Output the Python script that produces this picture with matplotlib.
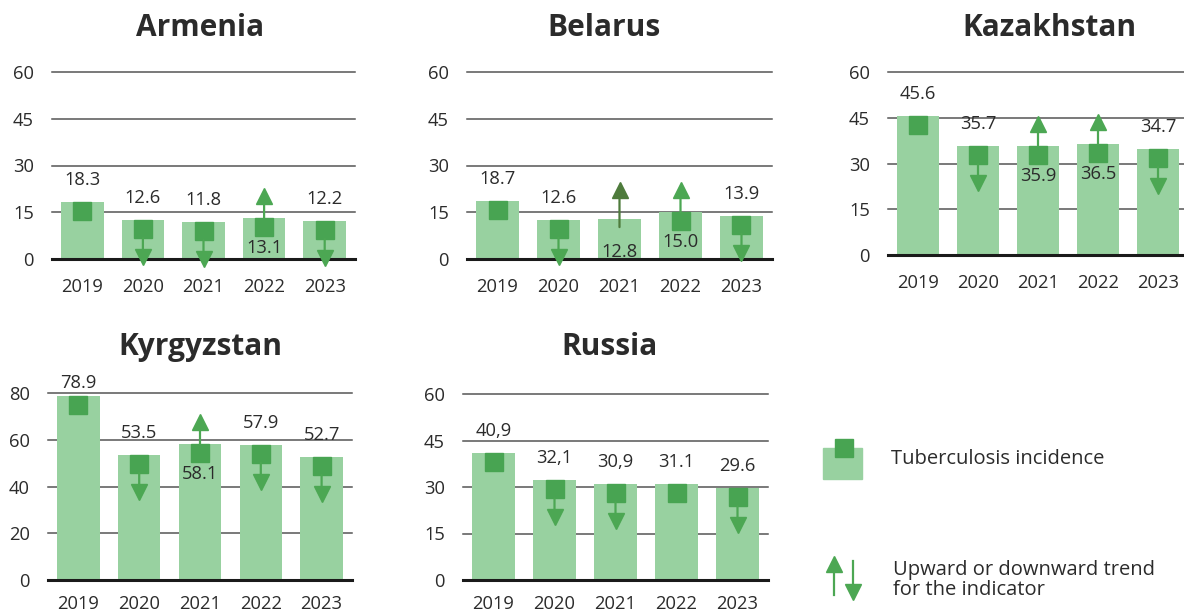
import matplotlib
matplotlib.use("Agg")
import matplotlib.pyplot as plt
import matplotlib.transforms as mtransforms
from matplotlib.patches import Rectangle

plt.rcParams['font.family'] = ['Open Sans', 'DejaVu Sans']

# ---------------- data ----------------
years = ["2019", "2020", "2021", "2022", "2023"]

armenia_vals = [18.3, 12.6, 11.8, 13.1, 12.2]
armenia_labels = ["18.3", "12.6", "11.8", "13.1", "12.2"]
armenia_trend = ["none", "down", "down", "up", "down"]

belarus_vals = [18.7, 12.6, 12.8, 15.0, 13.9]
belarus_labels = ["18.7", "12.6", "12.8", "15.0", "13.9"]
belarus_trend = ["none", "down", "up_nosq", "up", "down"]

kazakhstan_vals = [45.6, 35.7, 35.9, 36.5, 34.7]
kazakhstan_labels = ["45.6", "35.7", "35.9", "36.5", "34.7"]
kazakhstan_trend = ["none", "down", "up", "up", "down"]

kyrgyzstan_vals = [78.9, 53.5, 58.1, 57.9, 52.7]
kyrgyzstan_labels = ["78.9", "53.5", "58.1", "57.9", "52.7"]
kyrgyzstan_trend = ["none", "down", "up", "down", "down"]

russia_vals = [40.9, 32.1, 30.9, 31.1, 29.6]
russia_labels = ["40,9", "32,1", "30,9", "31.1", "29.6"]
russia_trend = ["none", "down", "down", "none", "down"]

# ---------------- style ----------------
BAR = "#98D1A0"
SQ = "#48A452"
ARR = "#4CA753"
ARR_DARK = "#4E7B3C"
TXT = "#2b2b2b"
GRID = "#555555"
FS = 13.2

W, H = 1184, 613
fig = plt.figure(figsize=(W / 100, H / 100), dpi=100)


def px_axes(x0, x1, ytop, ybot):
    return fig.add_axes([x0 / W, 1 - ybot / H, (x1 - x0) / W, (ybot - ytop) / H])


def off(ax, dy):
    return mtransforms.offset_copy(ax.transData, fig=fig, x=0, y=dy, units='dots')


def panel(ax, vals, labels, trends, ymax, step, title, title_xy, xpad=14):
    x = list(range(len(vals)))
    ax.bar(x, vals, width=0.7, color=BAR, zorder=2)
    ax.set_xlim(-0.5, 4.5)
    ax.set_ylim(0, ymax)
    ticks = list(range(0, ymax + 1, step))
    ax.set_yticks(ticks)
    ax.set_xticks(x)
    ax.set_xticklabels(years)
    for t in ticks:
        if t == 0:
            ax.axhline(0, color="#1a1a1a", lw=2.2, zorder=3, clip_on=False)
        else:
            ax.axhline(t, color=GRID, lw=1.1, zorder=1, clip_on=False)
    for s in ax.spines.values():
        s.set_visible(False)
    ax.tick_params(axis='both', length=0, labelsize=FS, colors=TXT)
    ax.tick_params(axis='y', pad=13)
    ax.tick_params(axis='x', pad=xpad)
    ax.patch.set_alpha(0)

    for i, (v, lab, tr) in enumerate(zip(vals, labels, trends)):
        if tr != "up_nosq":
            ax.plot([i], [v], marker='s', ms=13, color=SQ, lw=0, zorder=4,
                    transform=off(ax, -9), clip_on=False)
        if tr == "down":
            ax.annotate('', xy=(i, v), xycoords=off(ax, -38), xytext=(i, v),
                        textcoords=off(ax, -18),
                        arrowprops=dict(arrowstyle='-', lw=1.6, color=ARR,
                                        shrinkA=0, shrinkB=0), zorder=5)
            ax.plot([i], [v], marker='v', ms=11, color=ARR, lw=0, zorder=5,
                    transform=off(ax, -37), clip_on=False)
        elif tr == "up":
            ax.annotate('', xy=(i, v), xycoords=off(ax, 18), xytext=(i, v),
                        textcoords=off(ax, 0),
                        arrowprops=dict(arrowstyle='-', lw=1.6, color=ARR,
                                        shrinkA=0, shrinkB=0), zorder=5)
            ax.plot([i], [v], marker='^', ms=11, color=ARR, lw=0, zorder=5,
                    transform=off(ax, 22), clip_on=False)
        elif tr == "up_nosq":
            ax.annotate('', xy=(i, v), xycoords=off(ax, 25), xytext=(i, v),
                        textcoords=off(ax, -8),
                        arrowprops=dict(arrowstyle='-', lw=1.6, color=ARR_DARK,
                                        shrinkA=0, shrinkB=0), zorder=5)
            ax.plot([i], [v], marker='^', ms=11, color=ARR_DARK, lw=0, zorder=5,
                    transform=off(ax, 29), clip_on=False)

        if tr in ("up", "up_nosq"):
            dy = -30 if tr == "up" else -33
        else:
            dy = 22 if v < 0.9 * ymax else 13
        ax.text(i, v, lab, transform=off(ax, dy), ha='center', va='center',
                fontsize=FS, color=TXT, zorder=6)

    fig.text(title_xy[0] / W, 1 - title_xy[1] / H, title, ha='center',
             va='center', fontsize=21.5, fontweight='bold', color=TXT)


ax1 = px_axes(52, 355, 72, 259)
panel(ax1, armenia_vals, armenia_labels, armenia_trend, 60, 15, "Armenia", (200, 28))

ax2 = px_axes(467, 772, 72, 259)
panel(ax2, belarus_vals, belarus_labels, belarus_trend, 60, 15, "Belarus", (604, 28))

ax3 = px_axes(888, 1188, 72, 255)
panel(ax3, kazakhstan_vals, kazakhstan_labels, kazakhstan_trend, 60, 15, "Kazakhstan", (1049, 28))

ax4 = px_axes(48, 352, 393, 580)
panel(ax4, kyrgyzstan_vals, kyrgyzstan_labels, kyrgyzstan_trend, 80, 20, "Kyrgyzstan", (200, 347), xpad=11)

ax5 = px_axes(463, 768, 394, 580)
panel(ax5, russia_vals, russia_labels, russia_trend, 60, 15, "Russia", (610, 347), xpad=11)

# ---------------- legend ----------------
lax = fig.add_axes([0, 0, 1, 1])
lax.set_xlim(0, W)
lax.set_ylim(H, 0)
lax.axis('off')
lax.patch.set_alpha(0)
lax.add_patch(Rectangle((823, 448), 39, 31, color=BAR))
lax.add_patch(Rectangle((835, 439), 18, 18, color=SQ))
lax.text(891, 459, "Tuberculosis incidence", fontsize=14.5, color=TXT, va='center')

lax.plot([834, 834], [595, 566], color=ARR, lw=1.6)
lax.plot([834], [564], marker='^', ms=11, color=ARR, lw=0)
lax.plot([853, 853], [561, 590], color=ARR, lw=1.6)
lax.plot([853], [592], marker='v', ms=11, color=ARR, lw=0)
lax.text(893, 580, "Upward or downward trend\nfor the indicator", fontsize=14.5,
         color=TXT, va='center', linespacing=1.05)

fig.savefig("out.png", dpi=100)
